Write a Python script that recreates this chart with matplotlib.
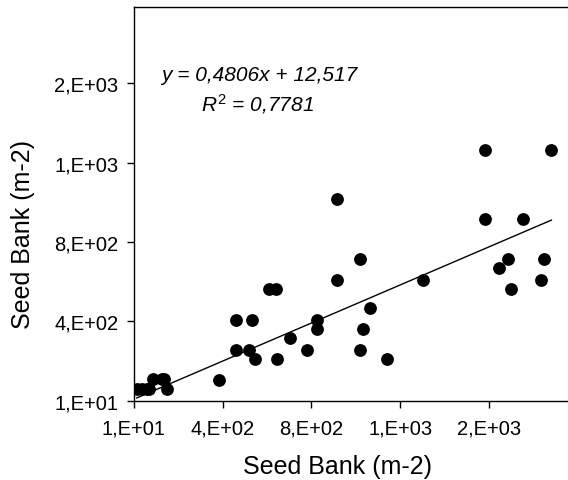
import matplotlib
matplotlib.use("Agg")
import matplotlib.pyplot as plt
import numpy as np

plt.rcParams['font.family'] = ['Liberation Sans', 'DejaVu Sans']
plt.rcParams['mathtext.fontset'] = 'custom'
plt.rcParams['mathtext.it'] = 'Liberation Sans:italic'
plt.rcParams['mathtext.rm'] = 'Liberation Sans'

# Data
x_vals = [23.5, 45.9, 68.4, 80.3, 98.3, 135.7, 146.2, 158.2, 391.7,
          469.5, 541.3, 469.5, 527.9, 556.3, 619.2, 652.1, 656.6, 712.0,
          791.3, 834.7, 834.7, 926.0, 926.0, 1026.3, 1026.3, 1041.2, 1074.2,
          1148.9, 1310.6, 1590.5, 1590.5, 1654.9, 1692.3, 1707.3, 1762.7,
          1842.0, 1857.0, 1889.9]
y_vals = [68.8, 68.8, 68.8, 68.8, 119.2, 119.2, 119.2, 68.8, 115.9,
          418.4, 418.4, 267.1, 267.1, 220.1, 573.0, 573.0, 220.1, 324.3,
          267.1, 418.4, 371.4, 1026.8, 620.1, 724.3, 267.1, 371.4, 475.6,
          220.1, 620.1, 1275.6, 926.0, 677.2, 724.3, 573.0, 926.0,
          620.1, 724.3, 1275.6]

slope = 0.4806
intercept = 12.517
r2_text = "0,7781"

x_ticks = [10, 410, 810, 1210, 1610]
x_ticklabels = ["1,E+01", "4,E+02", "8,E+02", "1,E+03", "2,E+03"]
y_ticks = [10, 410, 810, 1210, 1610]
y_ticklabels = ["1,E+01", "4,E+02", "8,E+02", "1,E+03", "2,E+03"]

fig = plt.figure(figsize=(5.68, 4.81), dpi=100)
ax = fig.add_axes([0.2354, 0.1649, 0.7636, 0.8178])

ax.scatter(x_vals, y_vals, s=85, color='black', zorder=3, linewidths=0)

xl = np.array([min(x_vals), max(x_vals)])
ax.plot(xl, slope * xl + intercept, color='black', lw=1.0, zorder=2)

ax.set_xlim(10, 1962)
ax.set_ylim(10, 1994)
ax.set_xticks(x_ticks)
ax.set_xticklabels(x_ticklabels)
ax.set_yticks(y_ticks)
ax.set_yticklabels(y_ticklabels)
ax.tick_params(direction='out', length=5, width=1, labelsize=14.5, color='black')
ax.tick_params(axis='x', pad=8)
ax.tick_params(axis='y', pad=6)

ax.spines['right'].set_visible(False)
for s in ['left', 'bottom', 'top']:
    ax.spines[s].set_linewidth(1.0)

ax.set_xlabel("Seed Bank (m-2)", fontsize=18)
ax.set_ylabel("Seed Bank (m-2)", fontsize=18)
ax.xaxis.set_label_coords(0.47, -0.135)
ax.yaxis.set_label_coords(-0.227, 0.424)

ax.text(0.289, 0.828, "y = 0,4806x + 12,517", transform=ax.transAxes,
        fontsize=15, style='italic', ha='center', va='center')
ax.text(0.285, 0.757, r"$R^{2}$ = " + r2_text, transform=ax.transAxes,
        fontsize=15, style='italic', ha='center', va='center')

fig.savefig("out.png", dpi=100)
